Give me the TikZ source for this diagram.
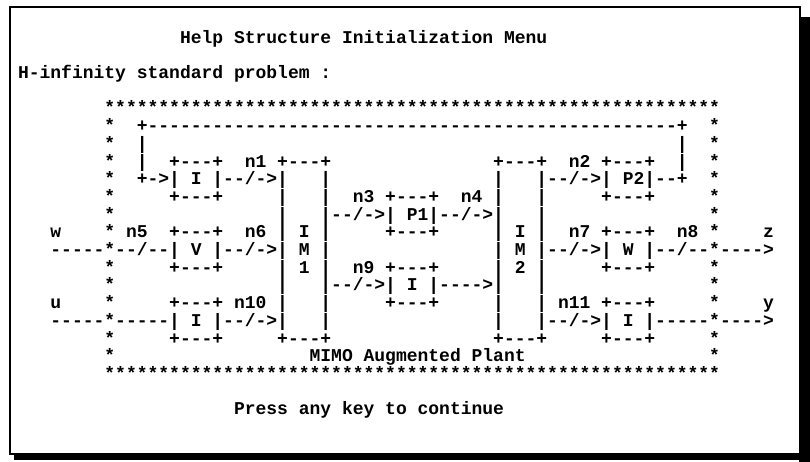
\documentclass[tikz,border=0pt]{standalone}
\usepackage{fontspec}
\newfontfamily\mono[Ligatures=TeXOff]{Liberation Mono}
\tikzset{
  txt/.style={anchor=mid west, inner sep=0pt, outer sep=0pt,
    font=\mono\bfseries\fontsize{18}{18}\selectfont}
}
% #1 = column, #2 = row, #3 = text
\newcommand\T[3]{\node[txt] (r#2c#1) at ({18+10.8*#1},{-41-17.7*#2}) {#3};}
\begin{document}
\begin{tikzpicture}[x=1pt,y=1pt]
\useasboundingbox (0,0) rectangle (810,-462);
% window frame with shadow
\fill[black] (799,-17) rectangle (810,-462);
\fill[black] (14,-453) rectangle (810,-460);
\draw[line width=2.5pt] (10,-7) rectangle (800,-454);
% texts
\T{15}{0}{Help Structure Initialization Menu}
\T{0}{2}{H-infinity standard problem :}
\T{8}{4}{*********************************************************}
% row 5
\T{8}{5}{*}\T{11}{5}{+-------------------------------------------------+}\T{64}{5}{*}
% row 6
\T{8}{6}{*}\T{11}{6}{|}\T{61}{6}{|}\T{64}{6}{*}
% row 7
\T{8}{7}{*}\T{11}{7}{|}\T{14}{7}{+---+}\T{21}{7}{n1}\T{24}{7}{+---+}
\T{44}{7}{+---+}\T{51}{7}{n2}\T{54}{7}{+---+}\T{61}{7}{|}\T{64}{7}{*}
% row 8
\T{8}{8}{*}\T{11}{8}{+->| I |--/->|}\T{28}{8}{|}
\T{44}{8}{|}\T{48}{8}{|--/->| P2|--+}\T{64}{8}{*}
% row 9
\T{8}{9}{*}\T{14}{9}{+---+}\T{24}{9}{|}\T{28}{9}{|}\T{31}{9}{n3 +---+}\T{41}{9}{n4}
\T{44}{9}{|}\T{48}{9}{|}\T{54}{9}{+---+}\T{64}{9}{*}
% row 10
\T{8}{10}{*}\T{24}{10}{|}\T{28}{10}{|--/->| P1|--/->|}\T{48}{10}{|}\T{64}{10}{*}
% row 11
\T{3}{11}{w}\T{8}{11}{*}\T{10}{11}{n5}\T{14}{11}{+---+}\T{21}{11}{n6}\T{24}{11}{| I |}
\T{34}{11}{+---+}\T{44}{11}{| I |}\T{51}{11}{n7 +---+}\T{61}{11}{n8}\T{64}{11}{*}\T{69}{11}{z}
% row 12
\T{3}{12}{-----*--/--| V |--/->| M |}
\T{44}{12}{| M |--/->| W |--/--*---->}
% row 13
\T{8}{13}{*}\T{14}{13}{+---+}\T{24}{13}{| 1 |}\T{31}{13}{n9 +---+}
\T{44}{13}{| 2 |}\T{54}{13}{+---+}\T{64}{13}{*}
% row 14
\T{8}{14}{*}\T{24}{14}{|}\T{28}{14}{|--/->| I |---->|}\T{48}{14}{|}\T{64}{14}{*}
% row 15
\T{3}{15}{u}\T{8}{15}{*}\T{14}{15}{+---+ n10}\T{24}{15}{|}\T{28}{15}{|}\T{34}{15}{+---+}
\T{44}{15}{|}\T{48}{15}{|}\T{50}{15}{n11 +---+}\T{64}{15}{*}\T{69}{15}{y}
% row 16
\T{3}{16}{-----*-----| I |--/->|}\T{28}{16}{|}
\T{44}{16}{|}\T{48}{16}{|--/->| I |-----*---->}
% row 17
\T{8}{17}{*}\T{14}{17}{+---+}\T{24}{17}{+---+}\T{44}{17}{+---+}\T{54}{17}{+---+}\T{64}{17}{*}
% row 18
\T{8}{18}{*}\T{27}{18}{MIMO Augmented Plant}\T{64}{18}{*}
% row 19
\T{8}{19}{*********************************************************}
% row 21
\T{20}{21}{Press any key to continue}
\end{tikzpicture}
\end{document}
